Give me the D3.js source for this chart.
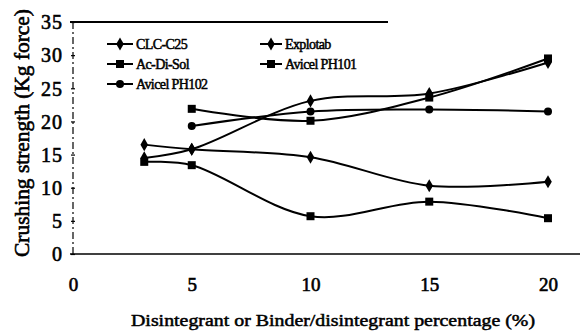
<!DOCTYPE html>
<html>
<head>
<meta charset="utf-8">
<script src="https://cdn.jsdelivr.net/npm/d3@7"></script>
<style>
  html, body { margin: 0; padding: 0; background: #fff; }
  svg { display: block; }
</style>
</head>
<body>
<svg id="chart" width="580" height="334"></svg>
<script>
// Crushing strength of tablets vs. disintegrant / binder-disintegrant level
const seriesNames = ["CLC-C25", "Explotab", "Ac-Di-Sol", "Avicel PH101", "Avicel PH102"];
const markerShapes = ["diamond", "diamond", "square", "square", "circle"];

const clcX = [3, 5, 10, 15, 20];
const clcY = [16.5, 15.8, 14.6, 10.3, 10.9];

const explotabX = [3, 5, 10, 15, 20];
const explotabY = [14.5, 15.8, 23.1, 24.2, 28.9];

const acdisolX = [3, 5, 10, 15, 20];
const acdisolY = [13.9, 13.4, 5.7, 7.9, 5.4];

const ph101X = [5, 10, 15, 20];
const ph101Y = [21.9, 20.1, 23.6, 29.5];

const ph102X = [5, 10, 15, 20];
const ph102Y = [19.3, 21.5, 21.8, 21.5];

const xTicks = [0, 5, 10, 15, 20];
const yTicks = [0, 5, 10, 15, 20, 25, 30, 35];

const xTitle = "Disintegrant or Binder/disintegrant percentage (%)";
const yTitle = "Crushing strength (Kg force)";

const FONT = "Liberation Serif";

const allX = [clcX, explotabX, acdisolX, ph101X, ph102X];
const allY = [clcY, explotabY, acdisolY, ph101Y, ph102Y];
const series = seriesNames.map((name, i) => ({
  name,
  shape: markerShapes[i],
  points: allX[i].map((x, j) => ({ x, y: allY[i][j] }))
}));

const svg = d3.select("#chart");
const x = d3.scaleLinear().domain([0, 20]).range([73, 548]);
const y = d3.scaleLinear().domain([0, 35]).range([254, 22]);

// text gets a thin outline for a heavier print look
function ink(sel, w) {
  return sel.attr("fill", "#000").attr("stroke", "#000").attr("stroke-width", w);
}

// frame: top rule, left (broken) axis, bottom axis
svg.append("line").attr("x1", 70).attr("x2", 388).attr("y1", y(35)).attr("y2", y(35))
  .attr("stroke", "#000").attr("stroke-width", 2);
svg.append("line").attr("x1", x(0)).attr("x2", x(0)).attr("y1", y(35)).attr("y2", y(0))
  .attr("stroke", "#000").attr("stroke-width", 1.2).attr("stroke-dasharray", "7,3,2,3");
svg.append("line").attr("x1", 70).attr("x2", 580).attr("y1", y(0)).attr("y2", y(0))
  .attr("stroke", "#000").attr("stroke-width", 1.6);

// y axis ticks and labels
const yAxis = d3.axisLeft(y).tickValues(yTicks).tickSize(4).tickPadding(8);
const gy = svg.append("g").attr("transform", `translate(${x(0) + 2},0)`).call(yAxis)
  .attr("font-family", FONT).attr("font-size", 20);
gy.select(".domain").remove();
gy.selectAll(".tick line").attr("stroke", "#000").attr("stroke-width", 1.2);
ink(gy.selectAll(".tick text"), 0.6).attr("letter-spacing", "1px").attr("dy", "0.34em");

// x axis labels
const xAxis = d3.axisBottom(x).tickValues(xTicks).tickSize(0).tickPadding(24);
const gx = svg.append("g").attr("transform", `translate(0,${y(0)})`).call(xAxis)
  .attr("font-family", FONT).attr("font-size", 19);
gx.select(".domain").remove();
ink(gx.selectAll(".tick text"), 0.6);

// axis titles
ink(svg.append("text"), 0.5)
  .attr("x", 333).attr("y", 326)
  .attr("text-anchor", "middle")
  .attr("textLength", 404).attr("lengthAdjust", "spacingAndGlyphs")
  .attr("font-family", FONT).attr("font-size", 17)
  .text(xTitle);

ink(svg.append("text"), 0.6)
  .attr("transform", "translate(29,133) rotate(-90)")
  .attr("text-anchor", "middle")
  .attr("textLength", 248).attr("lengthAdjust", "spacingAndGlyphs")
  .attr("font-family", FONT).attr("font-size", 20)
  .text(yTitle);

// markers
function drawMarker(g, shape, cx, cy) {
  if (shape === "circle") {
    g.append("circle").attr("cx", cx).attr("cy", cy).attr("r", 4).attr("fill", "#000");
  } else if (shape === "square") {
    g.append("rect").attr("x", cx - 4).attr("y", cy - 4).attr("width", 8).attr("height", 8).attr("fill", "#000");
  } else {
    g.append("path").attr("d", d3.symbol(d3.symbolDiamond, 50)()).attr("transform", `translate(${cx},${cy})`).attr("fill", "#000");
  }
}

const line = d3.line().x(d => x(d.x)).y(d => y(d.y)).curve(d3.curveCatmullRom.alpha(0.5));
const plot = svg.append("g");
series.forEach(s => {
  plot.append("path").datum(s.points).attr("d", line)
    .attr("fill", "none").attr("stroke", "#000").attr("stroke-width", 2);
  s.points.forEach(p => drawMarker(plot, s.shape, x(p.x), y(p.y)));
});

// legend: two columns
const legendPos = [
  [107, 44], [260, 44],
  [107, 64], [260, 64],
  [107, 84]
];
const legend = svg.append("g").attr("font-family", FONT).attr("font-size", 14);
series.forEach((s, i) => {
  const [lx, ly] = legendPos[i];
  const w = i % 2 === 0 ? 26 : 22;
  legend.append("line").attr("x1", lx).attr("x2", lx + w).attr("y1", ly).attr("y2", ly)
    .attr("stroke", "#000").attr("stroke-width", 2);
  drawMarker(legend, s.shape, lx + w / 2, ly);
  ink(legend.append("text"), 0.5).attr("x", lx + w + 3).attr("y", ly).attr("dy", "0.35em")
    .attr("letter-spacing", "-0.6px")
    .text(s.name);
});
</script>
</body>
</html>
